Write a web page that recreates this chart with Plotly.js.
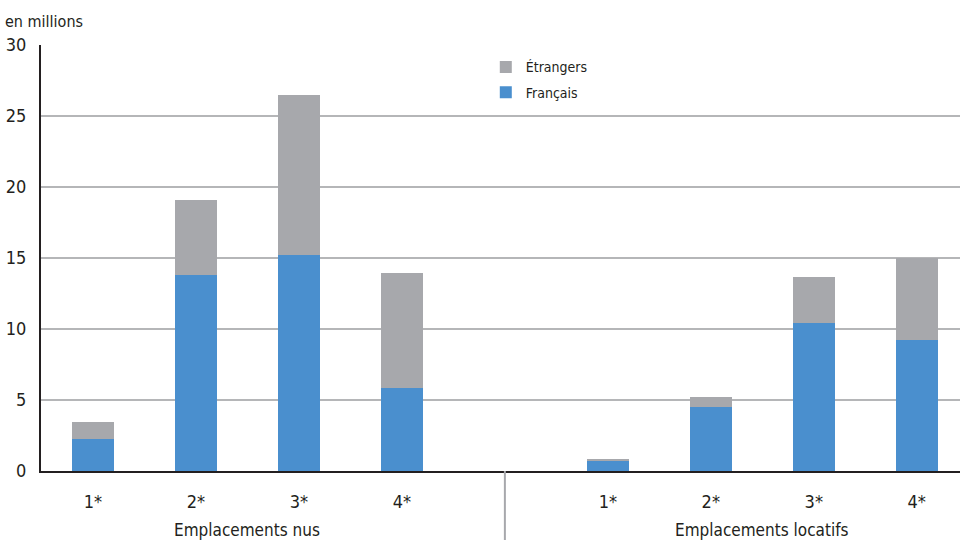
<!DOCTYPE html>
<html>
<head>
<meta charset="utf-8">
<script src="https://cdn.plot.ly/plotly-3.0.1.min.js"></script>
<style>
  html, body { margin: 0; padding: 0; background: #fff; }
  #chart { width: 960px; height: 540px; }
</style>
</head>
<body>
<div id="chart"></div>
<script>
// Nights by camping pitch category (millions)
const starLabels = ['1*', '2*', '3*', '4*'];
const groups = ['Emplacements nus', 'Emplacements locatifs'];

// bare pitches
const nusFrancais   = [2.25, 13.8, 15.2, 5.85];
const nusEtrangers  = [1.2, 5.3, 11.3, 8.1];
// rented accommodation
const locFrancais   = [0.7, 4.5, 10.4, 9.2];
const locEtrangers  = [0.15, 0.7, 3.25, 5.8];

const BLUE = '#4a8fce';
const GREY = '#a7a8ac';
const INK = '#231f20';
const FONT = '"Liberation Sans Narrow", "DejaVu Sans Condensed", Arial, sans-serif';

// positions: four bars, an empty slot, four bars
const xPos = [];
const xText = [];
starLabels.forEach((s, i) => { xPos.push(i); xText.push(s); });
starLabels.forEach((s, i) => { xPos.push(i + 5); xText.push(s); });

const francais = nusFrancais.concat(locFrancais);
const etrangers = nusEtrangers.concat(locEtrangers);

const traces = [
  { type: 'bar', name: 'Français', x: xPos, y: francais, legendgroup: 'fr',
    legendrank: 2, marker: { color: BLUE }, width: 0.41, hoverinfo: 'y+name' },
  { type: 'bar', name: 'Étrangers', x: xPos, y: etrangers, legendgroup: 'et',
    legendrank: 1, marker: { color: GREY }, width: 0.41, hoverinfo: 'y+name' }
];

const layout = {
  width: 960, height: 540,
  margin: { l: 41, r: 0, t: 45, b: 69 },
  paper_bgcolor: '#fff', plot_bgcolor: '#fff',
  barmode: 'stack',
  font: { family: FONT, size: 17, color: INK },
  showlegend: true,
  legend: {
    x: 0.484, y: 0.985, xanchor: 'left', yanchor: 'top',
    traceorder: 'grouped', bgcolor: 'rgba(0,0,0,0)',
    font: { family: FONT, size: 14, color: INK },
    itemwidth: 30, tracegroupgap: 4
  },
  xaxis: {
    range: [-0.505, 8.42],
    tickmode: 'array', tickvals: xPos, ticktext: xText,
    ticks: '', showgrid: false, zeroline: false,
    showline: true, linecolor: INK, linewidth: 2,
    ticklabelstandoff: 13,
    tickfont: { family: FONT, size: 18, color: INK },
    fixedrange: true
  },
  yaxis: {
    range: [0, 30], dtick: 5,
    showgrid: true, gridcolor: '#b5b6b8', gridwidth: 1.5,
    zeroline: false,
    showline: true, linecolor: INK, linewidth: 2,
    ticks: '', ticklabelstandoff: 9,
    tickfont: { family: FONT, size: 18, color: INK },
    fixedrange: true
  },
  annotations: [
    { text: 'en millions', xref: 'paper', yref: 'paper', x: -0.041, y: 1.054,
      xanchor: 'left', yanchor: 'middle', showarrow: false,
      font: { family: FONT, size: 16, color: INK } },
    { text: groups[0], xref: 'x', yref: 'paper', x: 1.5, y: -0.138,
      xanchor: 'center', yanchor: 'middle', showarrow: false,
      font: { family: FONT, size: 17, color: INK } },
    { text: groups[1], xref: 'x', yref: 'paper', x: 6.5, y: -0.138,
      xanchor: 'center', yanchor: 'middle', showarrow: false,
      font: { family: FONT, size: 17, color: INK } }
  ],
  shapes: [
    { type: 'line', xref: 'x', yref: 'paper', x0: 4, x1: 4, y0: 0, y1: -0.17,
      line: { color: GREY, width: 2 } }
  ]
};

Plotly.newPlot('chart', traces, layout, { displayModeBar: false, staticPlot: true });
</script>
</body>
</html>
